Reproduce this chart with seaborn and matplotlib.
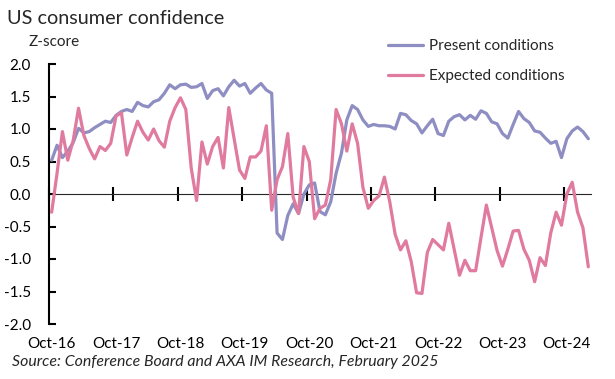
import numpy as np
import pandas as pd
import matplotlib.pyplot as plt
import seaborn as sns

sns.set_style("white")
plt.rcParams['font.family'] = ['Lato', 'DejaVu Sans']
plt.rcParams['axes.unicode_minus'] = False

# monthly z-scores, Oct-2016 .. Feb-2025
months = pd.period_range("2016-10", "2025-02", freq="M")
present = [0.52, 0.75, 0.56, 0.66, 0.79, 1.01, 0.94, 0.96, 1.02, 1.07, 1.12, 1.10,
           1.21, 1.27, 1.30, 1.27, 1.41, 1.36, 1.34, 1.42, 1.45, 1.55, 1.68, 1.62,
           1.68, 1.69, 1.64, 1.65, 1.70, 1.47, 1.59, 1.62, 1.51, 1.65, 1.75, 1.66,
           1.70, 1.55, 1.63, 1.70, 1.60, 1.55, -0.60, -0.70, -0.33, -0.15, -0.30, 0.00,
           0.14, 0.17, -0.27, -0.32, -0.12, 0.32, 0.63, 1.14, 1.36, 1.30, 1.14, 1.04,
           1.07, 1.05, 1.05, 1.04, 1.00, 1.24, 1.22, 1.13, 1.08, 0.94, 1.05, 1.15,
           0.93, 0.90, 1.12, 1.19, 1.22, 1.14, 1.21, 1.15, 1.28, 1.24, 1.11, 1.08,
           0.93, 0.86, 1.07, 1.27, 1.16, 1.10, 0.97, 0.95, 0.86, 0.78, 0.81, 0.56,
           0.85, 0.97, 1.03, 0.96, 0.85]
expected = [-0.28, 0.32, 0.96, 0.52, 0.82, 1.32, 0.90, 0.70, 0.54, 0.73, 0.67, 0.78,
            1.20, 1.25, 0.60, 0.87, 1.12, 0.95, 0.83, 1.00, 0.82, 0.72, 1.12, 1.33,
            1.48, 1.30, 0.40, -0.10, 0.80, 0.46, 0.73, 0.87, 0.40, 1.33, 0.85, 0.37,
            0.24, 0.57, 0.57, 0.66, 1.05, -0.25, 0.22, 0.42, 0.93, -0.05, -0.30, 0.73,
            0.50, -0.38, -0.22, -0.17, 0.22, 1.30, 1.08, 0.66, 1.08, 0.78, 0.10, -0.22,
            -0.10, -0.03, 0.26, -0.12, -0.62, -0.86, -0.72, -1.04, -1.52, -1.53, -0.90, -0.70,
            -0.78, -0.86, -0.45, -0.85, -1.25, -1.02, -1.18, -1.18, -0.67, -0.17, -0.52, -0.87,
            -1.11, -0.85, -0.57, -0.56, -0.85, -1.02, -1.35, -0.98, -1.10, -0.60, -0.28, -0.48,
            0.00, 0.18, -0.28, -0.52, -1.12]
y_ticks = [-2.0, -1.5, -1.0, -0.5, 0.0, 0.5, 1.0, 1.5, 2.0]

df = pd.DataFrame({"pos": np.arange(len(months)),
                   "Present conditions": present,
                   "Expected conditions": expected})
oct_pos = [i for i, m in enumerate(months) if m.month == 10]
oct_labels = [months[i].strftime("Oct-%y") for i in oct_pos]

fig = plt.figure(figsize=(6.15, 3.79), dpi=100)
ax = fig.add_axes([49 / 615, 55 / 379, 542 / 615, 260 / 379])

sns.lineplot(data=df, x="pos", y="Present conditions", color="#8E8EC2", lw=2.3,
             label="Present conditions", ax=ax)
sns.lineplot(data=df, x="pos", y="Expected conditions", color="#E07A9F", lw=2.3,
             label="Expected conditions", ax=ax)

ax.set_xlim(-0.5, len(months) - 0.5)
ax.set_ylim(-2, 2)
ax.set_xlabel("")
ax.set_ylabel("")

# y axis
for s in ["top", "right", "bottom"]:
    ax.spines[s].set_visible(False)
ax.spines["left"].set_color("black")
ax.spines["left"].set_linewidth(1.5)
ax.set_yticks(y_ticks)
ax.set_yticklabels([f"{v:.1f}" for v in y_ticks])
ax.tick_params(axis="y", direction="in", length=5, width=1.5, pad=13,
               labelsize=11, colors="black", left=True)

# x labels at bottom, no marks
ax.set_xticks(oct_pos)
ax.set_xticklabels(oct_labels)
ax.tick_params(axis="x", length=0, pad=9, labelsize=11, colors="black")

# zero line with year ticks
sec = ax.secondary_xaxis(0.5)
sec.set_xticks([p - 0.5 for p in oct_pos])
sec.set_xticklabels([])
sec.tick_params(axis="x", direction="inout", length=10, width=1.5,
                labelbottom=False, labeltop=False, colors="black")
sec.spines["bottom"].set_linewidth(1.5)
sec.spines["bottom"].set_color("black")

ax.legend(loc="upper left", bbox_to_anchor=(388 / 615, 1 - 39 / 379),
          bbox_transform=fig.transFigure, frameon=False, fontsize=11,
          handlelength=2.3, handletextpad=0.4, labelspacing=1.05,
          borderpad=0, borderaxespad=0)

fig.text(7 / 615, 1 - 19 / 379, "US consumer confidence", fontsize=14.3, va="center")
fig.text(29 / 615, 1 - 42 / 379, "Z-score", fontsize=11, va="center")
fig.text(12 / 615, 1 - 362 / 379,
         "Source: Conference Board and AXA IM Research, February 2025",
         fontsize=11.4, style="italic", va="center")

fig.savefig("out.png", dpi=100)
